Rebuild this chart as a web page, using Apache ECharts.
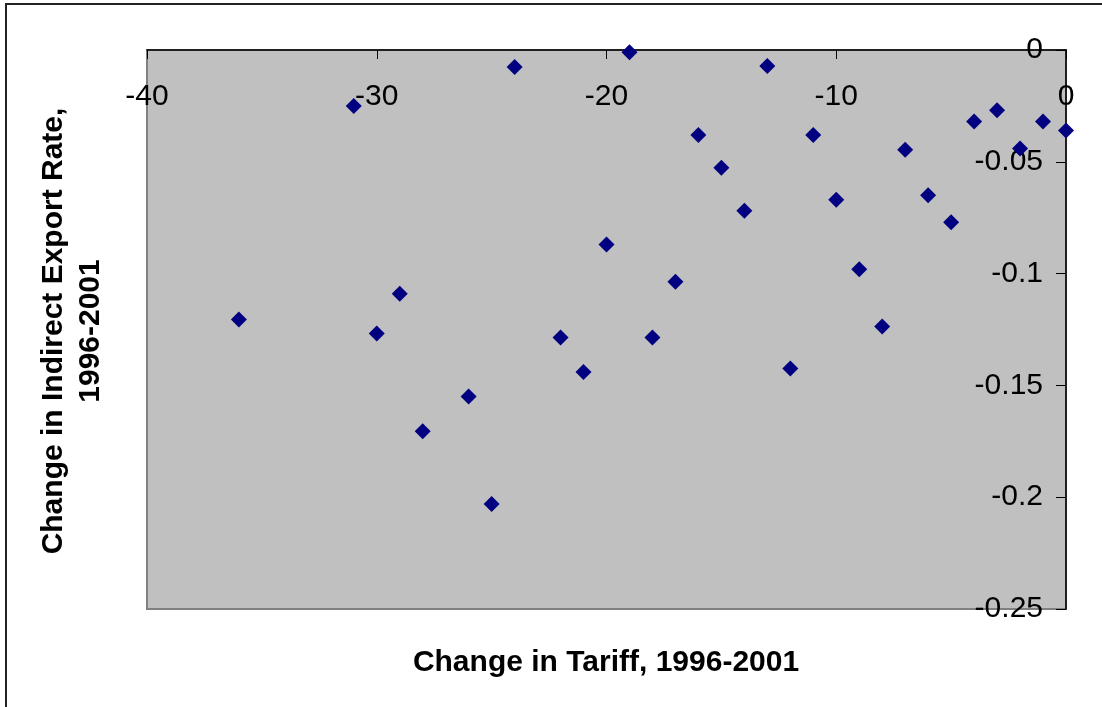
<!DOCTYPE html>
<html>
<head>
<meta charset="utf-8">
<script src="https://cdn.jsdelivr.net/npm/echarts@6/dist/echarts.min.js"></script>
<style>
  html, body { margin: 0; padding: 0; background: #fff; }
  #chart { width: 1102px; height: 707px; }
</style>
</head>
<body>
<div id="chart"></div>
<script>
// change in tariff (x) and change in indirect export rate (y), 1996-2001
const tariffChange = [-36, -31, -30, -29, -28, -26, -25, -24, -22, -21, -20, -19, -18, -17, -16, -15,
  -14, -13, -12, -11, -10, -9, -8, -7, -6, -5, -4, -3, -2, -1, 0];
const exportRateChange = [-0.1205, -0.025, -0.1268, -0.109, -0.1705, -0.155, -0.203, -0.0076, -0.1286,
  -0.144, -0.087, -0.001, -0.1286, -0.1036, -0.038, -0.0527, -0.0719, -0.0071, -0.1424, -0.038,
  -0.067, -0.098, -0.1237, -0.0446, -0.065, -0.077, -0.032, -0.027, -0.044, -0.032, -0.036];

const xTitle = 'Change in Tariff, 1996-2001';
const yTitle = ['Change in Indirect Export Rate,', '1996-2001'];

const font = "'Liberation Sans', Arial, sans-serif";

const points = tariffChange.map((x, i) => [x, exportRateChange[i]]);

const myChart = echarts.init(document.getElementById('chart'));
myChart.setOption({
  animation: false,
  backgroundColor: '#fff',
  grid: {
    left: 147,
    top: 50,
    right: 36,
    bottom: 98,
    outerBoundsMode: 'none',
    show: true,
    backgroundColor: '#c0c0c0',
    borderColor: '#808080',
    borderWidth: 2
  },
  xAxis: {
    type: 'value',
    position: 'top',
    min: -40,
    max: 0,
    interval: 10,
    axisLine: { onZero: false, lineStyle: { color: '#000', width: 1.5 } },
    axisTick: { inside: true, length: 9, lineStyle: { color: '#000' } },
    axisLabel: {
      inside: true,
      margin: 32,
      fontSize: 30,
      color: '#000',
      fontFamily: font
    },
    splitLine: { show: false }
  },
  yAxis: {
    type: 'value',
    position: 'right',
    min: -0.25,
    max: 0,
    interval: 0.05,
    axisLine: { onZero: false, lineStyle: { color: '#000', width: 1.5 } },
    axisTick: { inside: true, length: 10, lineStyle: { color: '#000' } },
    axisLabel: {
      inside: true,
      margin: 23,
      fontSize: 30,
      color: '#000',
      fontFamily: font,
      formatter: v => String(Math.round(v * 100) / 100)
    },
    splitLine: { show: false }
  },
  series: [{
    type: 'scatter',
    symbol: 'diamond',
    symbolSize: 16,
    itemStyle: { color: '#000080', opacity: 1 },
    data: points
  }],
  graphic: [
    {
      type: 'rect',
      shape: { x: 6, y: 4, width: 1110, height: 720 },
      style: { fill: 'none', stroke: '#222', lineWidth: 2 },
      silent: true
    },
    {
      type: 'text',
      x: 606,
      y: 663,
      style: {
        text: xTitle,
        font: 'bold 30px ' + font,
        fill: '#000',
        align: 'center',
        verticalAlign: 'middle'
      }
    },
    {
      type: 'text',
      x: 72,
      y: 331,
      rotation: Math.PI / 2,
      style: {
        text: yTitle.join('\n'),
        font: 'bold 30px ' + font,
        lineHeight: 37,
        fill: '#000',
        align: 'center',
        verticalAlign: 'middle'
      }
    }
  ]
});
</script>
</body>
</html>
